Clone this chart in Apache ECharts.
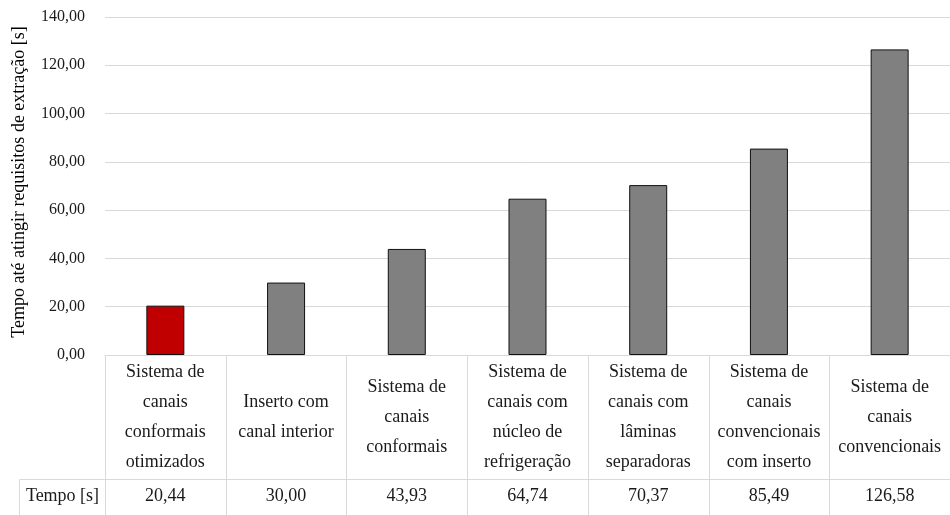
<!DOCTYPE html>
<html><head><meta charset="utf-8">
<script src="https://cdn.jsdelivr.net/npm/echarts@6/dist/echarts.min.js"></script>
<style>html,body{margin:0;padding:0;background:#fff}#c{width:950px;height:515px}</style>
</head><body><div id="c"></div>
<script>
const categories = [
  'Sistema de\ncanais\nconformais\notimizados',
  'Inserto com\ncanal interior',
  'Sistema de\ncanais\nconformais',
  'Sistema de\ncanais com\nnúcleo de\nrefrigeração',
  'Sistema de\ncanais com\nlâminas\nseparadoras',
  'Sistema de\ncanais\nconvencionais\ncom inserto',
  'Sistema de\ncanais\nconvencionais'
];
const values = [20.44, 30.00, 43.93, 64.74, 70.37, 85.49, 126.58];
const highlightIndex = 0;
const rowLabel = 'Tempo [s]';
const yAxisTitle = 'Tempo até atingir requisitos de extração [s]';

const FONT = '"Liberation Serif", "DejaVu Serif", serif';
const GRID_COLOR = '#d9d9d9';
const TEXT_COLOR = '#1a1a1a';
const fmt = v => v.toFixed(2).replace('.', ',');

const chart = echarts.init(document.getElementById('c'));
chart.setOption({
  animation: false,
  textStyle: { fontFamily: FONT },
  grid: [
    { left: 105, right: 0, top: 17, height: 338 },
    { left: 105, right: 0, top: 355, height: 161 }
  ],
  xAxis: [
    { type: 'category', gridIndex: 0, data: categories, axisLabel: { show: false },
      axisTick: { show: false }, axisLine: { show: true, lineStyle: { color: GRID_COLOR } } },
    { type: 'category', gridIndex: 1, data: categories, show: false }
  ],
  yAxis: [
    { type: 'value', gridIndex: 0, min: 0, max: 140, interval: 20,
      name: yAxisTitle, nameLocation: 'middle', nameGap: 77,
      nameTextStyle: { fontFamily: FONT, fontSize: 18, color: '#000', padding: [0, 0, 0, 8] },
      axisLabel: { formatter: v => fmt(v), fontFamily: FONT, fontSize: 16, color: TEXT_COLOR, margin: 20 },
      axisLine: { show: false }, axisTick: { show: false },
      splitLine: { lineStyle: { color: GRID_COLOR } } },
    { type: 'value', gridIndex: 1, min: 0, max: 161, inverse: true, show: false }
  ],
  series: [
    { type: 'bar', xAxisIndex: 0, yAxisIndex: 0, barWidth: 38,
      data: values.map((v, i) => ({ value: v,
        itemStyle: { color: i === highlightIndex ? '#c00000' : '#808080' } })),
      itemStyle: { borderColor: '#111', borderWidth: 1 } },
    { type: 'custom', xAxisIndex: 1, yAxisIndex: 1, clip: false,
      data: categories.map((c, i) => [i, values[i]]),
      renderItem: function (params, api) {
        const i = api.value(0);
        const w = api.size([1, 0])[0];
        const cx = api.coord([i, 0])[0];
        const y0 = api.coord([i, 0])[1];
        const y1 = api.coord([i, 125])[1];
        const y2 = api.coord([i, 161])[1];
        const yv = (y1 + api.coord([i, 160])[1]) / 2;
        const x0 = Math.round(cx - w / 2) + 0.5;
        const x1 = Math.round(cx + w / 2) + 0.5;
        const ly = Math.round(y1) + 0.5;
        const ls = { stroke: GRID_COLOR, lineWidth: 1 };
        const children = [
          { type: 'line', shape: { x1: x0, y1: y0, x2: x0, y2: y2 }, style: ls },
          { type: 'line', shape: { x1: x1, y1: y0, x2: x1, y2: y2 }, style: ls },
          { type: 'line', shape: { x1: x0, y1: ly, x2: x1, y2: ly }, style: ls },
          { type: 'text', style: { text: categories[i], x: cx, y: (y0 + y1) / 2,
              align: 'center', verticalAlign: 'middle', lineHeight: 30,
              font: '18px ' + FONT, fill: TEXT_COLOR } },
          { type: 'text', style: { text: fmt(api.value(1)), x: cx, y: yv,
              align: 'center', verticalAlign: 'middle', font: '18px ' + FONT, fill: TEXT_COLOR } }
        ];
        if (i === 0) {
          const lx = x0 - 86;
          children.push(
            { type: 'line', shape: { x1: lx, y1: ly, x2: x0, y2: ly }, style: ls },
            { type: 'line', shape: { x1: lx, y1: ly, x2: lx, y2: y2 }, style: ls },
            { type: 'text', style: { text: rowLabel, x: (lx + x0) / 2, y: yv,
                align: 'center', verticalAlign: 'middle', font: '18px ' + FONT, fill: TEXT_COLOR } }
          );
        }
        return { type: 'group', children: children };
      }
    }
  ]
});
</script></body></html>
